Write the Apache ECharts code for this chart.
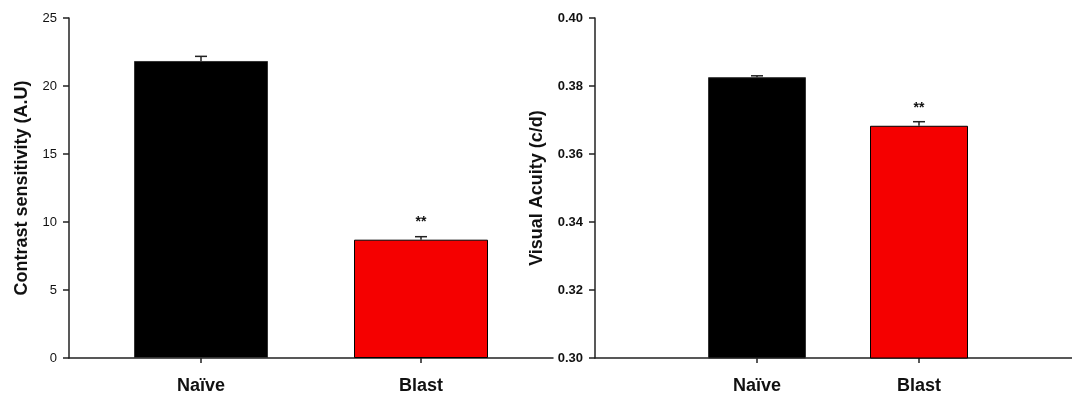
<!DOCTYPE html>
<html>
<head>
<meta charset="utf-8">
<script src="https://cdn.jsdelivr.net/npm/echarts@6/dist/echarts.min.js"></script>
<style>
html,body{margin:0;padding:0;background:#fff;}
#chart{width:1072px;height:396px;}
</style>
</head>
<body>
<div id="chart"></div>
<script>
// ---- data ----
var categories = ['Naïve', 'Blast'];
var contrastValues = [21.84, 8.70];
var contrastErrors = [0.34, 0.22];
var acuityValues = [0.3826, 0.3683];
var acuityErrors = [0.0004, 0.0012];
var significance = ['', '**'];
var contrastTicks = [0, 5, 10, 15, 20, 25];
var acuityTicks = [0.30, 0.32, 0.34, 0.36, 0.38, 0.40];
var barColors = ['#000000', '#f50000'];

// ---- layout helpers (category slots on the axis) ----
function slots(total, positions) {
  var arr = [];
  for (var i = 0; i < total; i++) arr.push('');
  positions.forEach(function (p, k) { arr[p] = categories[k]; });
  return arr;
}
var leftPos = [3, 8], leftSlots = slots(12, leftPos);
var rightPos = [1, 2], rightSlots = slots(4, rightPos);

function barData(total, positions, values) {
  var arr = [];
  for (var i = 0; i < total; i++) arr.push('-');
  positions.forEach(function (p, k) {
    arr[p] = { value: values[k], itemStyle: { color: barColors[k], borderColor: k === 0 ? '#333' : '#000', borderWidth: 1 } };
  });
  return arr;
}
function errData(positions, values, errs) {
  return positions.map(function (p, k) { return [p, values[k], errs[k]]; });
}
function errRender(params, api) {
  var x = api.value(0), v = api.value(1), e = api.value(2);
  var base = api.coord([x, v]);
  var top = api.coord([x, v + e]);
  var half = 6;
  var style = { stroke: '#222', lineWidth: 1.5 };
  return {
    type: 'group',
    children: [
      { type: 'line', shape: { x1: base[0], y1: base[1], x2: top[0], y2: top[1] }, style: style },
      { type: 'line', shape: { x1: top[0] - half, y1: top[1], x2: top[0] + half, y2: top[1] }, style: style }
    ]
  };
}
function sigLabel(positions) {
  return {
    show: true, position: 'top', distance: 11,
    fontFamily: 'Liberation Sans, Arial, sans-serif', fontSize: 14, fontWeight: 'bold', color: '#111',
    formatter: function (p) {
      var k = positions.indexOf(p.dataIndex);
      return k >= 0 ? significance[k] : '';
    }
  };
}

var axisLineStyle = { color: '#222', width: 1.5 };
var font = 'Liberation Sans, Arial, sans-serif';

var chart = echarts.init(document.getElementById('chart'), null, { renderer: 'canvas' });
chart.setOption({
  animation: false,
  backgroundColor: '#fff',
  grid: [
    { left: 69, width: 484, top: 18, bottom: 38, outerBoundsMode: 'none', containLabel: false },
    { left: 595, width: 486, top: 18, bottom: 38, outerBoundsMode: 'none', containLabel: false }
  ],
  xAxis: [
    {
      gridIndex: 0, type: 'category', data: leftSlots, boundaryGap: false,
      axisLine: { lineStyle: axisLineStyle },
      axisTick: { length: 5, lineStyle: axisLineStyle, interval: function (i, v) { return v !== ''; } },
      axisLabel: { interval: 0, margin: 19, fontFamily: font, fontSize: 18, fontWeight: 'bold', color: '#111' },
      splitLine: { show: false }
    },
    {
      gridIndex: 1, type: 'category', data: rightSlots, boundaryGap: false,
      axisLine: { lineStyle: axisLineStyle },
      axisTick: { length: 5, lineStyle: axisLineStyle, interval: function (i, v) { return v !== ''; } },
      axisLabel: { interval: 0, margin: 19, fontFamily: font, fontSize: 18, fontWeight: 'bold', color: '#111' },
      splitLine: { show: false }
    }
  ],
  yAxis: [
    {
      gridIndex: 0, type: 'value', min: contrastTicks[0], max: contrastTicks[contrastTicks.length - 1],
      interval: contrastTicks[1] - contrastTicks[0],
      name: 'Contrast sensitivity (A.U)', nameLocation: 'middle', nameGap: 38,
      nameTextStyle: { fontFamily: font, fontSize: 18, fontWeight: 'bold', color: '#111' },
      axisLine: { show: true, lineStyle: axisLineStyle },
      axisTick: { show: true, length: 6, lineStyle: axisLineStyle },
      axisLabel: { margin: 12, fontFamily: font, fontSize: 13, color: '#111' },
      splitLine: { show: false }
    },
    {
      gridIndex: 1, type: 'value', min: acuityTicks[0], max: acuityTicks[acuityTicks.length - 1],
      interval: 0.02,
      name: 'Visual Acuity (c/d)', nameLocation: 'middle', nameGap: 49,
      nameTextStyle: { fontFamily: font, fontSize: 18, fontWeight: 'bold', color: '#111' },
      axisLine: { show: true, lineStyle: axisLineStyle },
      axisTick: { show: true, length: 6, lineStyle: axisLineStyle },
      axisLabel: { margin: 12, fontFamily: font, fontSize: 13, fontWeight: 'bold', color: '#111',
        formatter: function (v) { return v.toFixed(2); } },
      splitLine: { show: false }
    }
  ],
  series: [
    { type: 'bar', xAxisIndex: 0, yAxisIndex: 0, barWidth: 134,
      data: barData(12, leftPos, contrastValues), label: sigLabel(leftPos), z: 2 },
    { type: 'custom', xAxisIndex: 0, yAxisIndex: 0, renderItem: errRender,
      data: errData(leftPos, contrastValues, contrastErrors), z: 3 },
    { type: 'bar', xAxisIndex: 1, yAxisIndex: 1, barWidth: 98,
      data: barData(4, rightPos, acuityValues), label: sigLabel(rightPos), z: 2 },
    { type: 'custom', xAxisIndex: 1, yAxisIndex: 1, renderItem: errRender,
      data: errData(rightPos, acuityValues, acuityErrors), z: 3 }
  ]
});
</script>
</body>
</html>
